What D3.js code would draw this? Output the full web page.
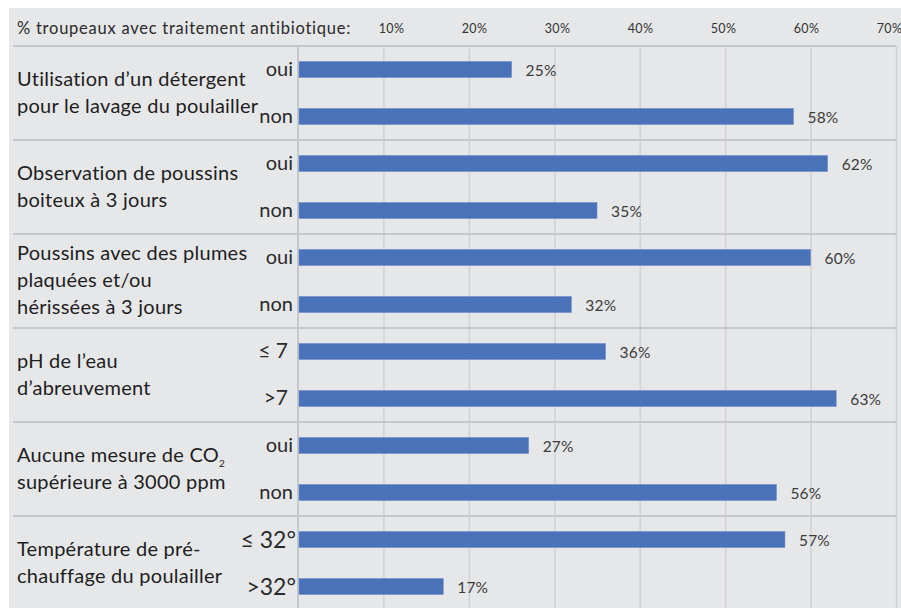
<!DOCTYPE html>
<html>
<head>
<meta charset="utf-8">
<script src="https://cdn.jsdelivr.net/npm/d3@7"></script>
<style>
    body { margin: 0; background: #fff; }
    svg { display: block; font-family: Lato, "Noto Sans", sans-serif; }
</style>
</head>
<body>
<svg id="chart" width="901" height="608"></svg>
<script>
// chart data
const axisTitle = '% troupeaux avec traitement antibiotique:';
const groupLabels = [
    ['Utilisation d\u2019un détergent', 'pour le lavage du poulailler'],
    ['Observation de poussins', 'boiteux à 3 jours'],
    ['Poussins avec des plumes', 'plaquées et/ou', 'hérissées à 3 jours'],
    ['pH de l\u2019eau', 'd\u2019abreuvement'],
    ['Aucune mesure de CO|2', 'supérieure à 3000 ppm'],
    ['Température de pré-', 'chauffage du poulailler']
];
const levelLabels = [
    ['oui', 'non'],
    ['oui', 'non'],
    ['oui', 'non'],
    ['\u2264 7', '>7'],
    ['oui', 'non'],
    ['\u2264 32°', '>32°']
];
const values = [
    [25, 58],
    [62, 35],
    [60, 32],
    [36, 63],
    [27, 56],
    [57, 17]
];
const tickValues = [10, 20, 30, 40, 50, 60, 70];

// flatten into rows for the band scale
const rows = [];
values.forEach((pair, g) => {
    pair.forEach((v, i) => {
        rows.push({ id: g + '-' + i, group: g, level: levelLabels[g][i], value: v });
    });
});

const svg = d3.select('#chart');
const plotTop = 46, plotBottom = 610, plotLeft = 298, plotRight = 896;

const x = d3.scaleLinear().domain([0, 70]).range([plotLeft, plotRight]);
// the header labels sit on their own slightly tighter spacing
const xLabel = d3.scaleLinear().domain([10, 70]).range([391, 889]);
const y = d3.scaleBand()
    .domain(rows.map(d => d.id))
    .range([plotTop, plotBottom])
    .paddingInner(0.66)
    .paddingOuter(0.33);
const groupY = d3.scaleBand()
    .domain(d3.range(groupLabels.length))
    .range([plotTop, plotBottom]);

// background panel
svg.append('rect')
    .attr('x', 9).attr('y', 8)
    .attr('width', 901 - 9).attr('height', 608 - 8)
    .attr('fill', '#e6e7e9');

// vertical gridlines
const grid = svg.append('g')
    .attr('transform', 'translate(0,' + plotTop + ')')
    .call(d3.axisBottom(x).tickValues(tickValues).tickSize(plotBottom - plotTop).tickFormat(''));
grid.select('.domain').remove();
grid.selectAll('line').attr('stroke', '#d0d1d5').attr('stroke-width', 1.5);

// tick labels at the top
const axisTop = svg.append('g')
    .attr('transform', 'translate(0,33)')
    .call(d3.axisTop(xLabel).tickValues(tickValues).tickSize(0).tickPadding(0).tickFormat(d => d + '%'));
axisTop.select('.domain').remove();
axisTop.selectAll('text')
    .attr('dy', 0)
    .attr('font-size', 12.5)
    .attr('font-family', 'Lato, sans-serif')
    .attr('letter-spacing', 0.3)
    .attr('fill', '#333');

svg.append('text')
    .attr('x', 17).attr('y', 34)
    .attr('font-size', 16.5)
    .attr('letter-spacing', 0.75)
    .attr('fill', '#2a2a2a')
    .text(axisTitle);

// horizontal separators
svg.selectAll('.sep')
    .data(d3.range(groupLabels.length))
    .enter().append('line')
    .attr('class', 'sep')
    .attr('x1', 13).attr('x2', plotRight)
    .attr('y1', d => groupY(d)).attr('y2', d => groupY(d))
    .attr('stroke', '#c6c7cb').attr('stroke-width', 2);

// left edge of plot
svg.append('line')
    .attr('x1', x(0)).attr('x2', x(0))
    .attr('y1', plotTop).attr('y2', plotBottom)
    .attr('stroke', '#c6c7cb').attr('stroke-width', 2);

// bars
svg.selectAll('.bar')
    .data(rows)
    .enter().append('rect')
    .attr('class', 'bar')
    .attr('x', x(0) + 1)
    .attr('y', d => y(d.id))
    .attr('width', d => x(d.value) - x(0) - 1)
    .attr('height', y.bandwidth())
    .attr('fill', '#4a72b8')
    .attr('stroke', '#6c8ccb').attr('stroke-width', 0.6);

// value labels
svg.selectAll('.value')
    .data(rows)
    .enter().append('text')
    .attr('class', 'value')
    .attr('x', d => x(d.value) + 14)
    .attr('y', d => y(d.id) + y.bandwidth() / 2 + 6)
    .attr('font-size', 15.5)
    .attr('letter-spacing', 0.2)
    .attr('fill', '#3c3c3c')
    .text(d => d.value + '%');

// level labels (oui / non ...)
svg.selectAll('.level')
    .data(rows)
    .enter().append('text')
    .attr('class', 'level')
    .attr('x', d => d.level.includes('°') ? 296 : (d.level.includes('7') ? 288 : 293))
    .attr('y', d => y(d.id) + y.bandwidth() / 2 + (d.level.includes('°') ? 8 : 6))
    .attr('text-anchor', 'end')
    .attr('font-size', d => d.level.includes('°') ? 23 : (d.level.includes('7') ? 21 : 20))
    .attr('fill', '#2a2a2a')
    .text(d => d.level);

// group labels
const lineHeight = 27;
const labels = svg.selectAll('.group')
    .data(groupLabels)
    .enter().append('text')
    .attr('class', 'group')
    .attr('font-size', 20)
    .attr('letter-spacing', 0.25)
    .attr('fill', '#1e1e1e');

labels.each(function (lines, g) {
    const mid = groupY(g) + groupY.bandwidth() / 2 + 6;
    const start = mid - (lines.length - 1) * lineHeight / 2;
    lines.forEach((line, i) => {
        const parts = line.split('|');
        d3.select(this).append('tspan')
            .attr('x', 17)
            .attr('y', start + i * lineHeight)
            .text(parts[0]);
        if (parts[1]) { // subscript
            d3.select(this).append('tspan')
                .attr('dy', 5)
                .attr('font-size', 10)
                .text(parts[1]);
        }
    });
});
</script>
</body>
</html>
